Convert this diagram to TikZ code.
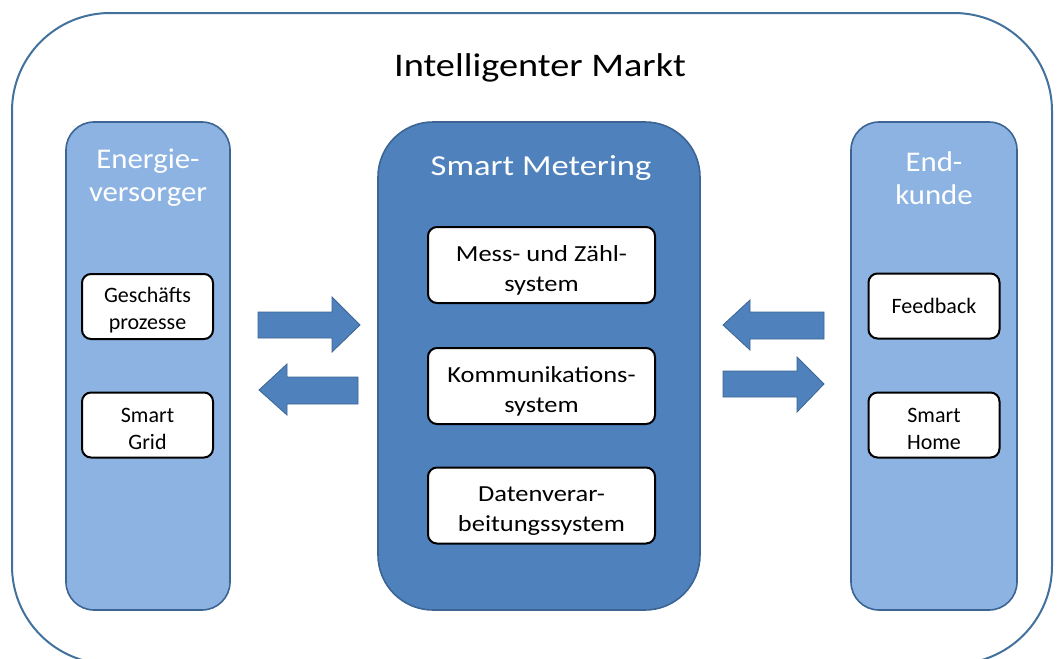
\documentclass[tikz,border=0pt]{standalone}
\usepackage{fontspec}
\setmainfont{Carlito}
\newfontfamily\titlefont[FakeStretch=1.16]{Carlito}
\newfontfamily\smfont[FakeStretch=1.19]{Carlito}
\newfontfamily\headfont[FakeStretch=1.08]{Carlito}
\newfontfamily\midfont[FakeStretch=1.15]{Carlito}
\definecolor{outerblue}{HTML}{41719C}
\definecolor{sidefill}{HTML}{8DB3E2}
\definecolor{midfill}{HTML}{4F81BD}
\definecolor{edgeblue}{HTML}{3C6594}
\begin{document}
\begin{tikzpicture}[x=1pt,y=-1pt,
 panel/.style={draw=edgeblue, line width=1.6pt, inner sep=0pt},
 sidepanel/.style={panel, fill=sidefill, rounded corners=28pt, minimum width=164pt, minimum height=488pt},
 midpanel/.style={panel, fill=midfill, rounded corners=55pt, minimum width=322pt, minimum height=488pt},
 itembox/.style={draw=black, line width=2pt, fill=white, rounded corners=9pt, align=center, inner sep=0pt},
 smallbox/.style={itembox, minimum width=131pt, minimum height=65pt, font=\fontsize{22}{27}\selectfont},
 twoline/.style={text height=49pt},
 widebox/.style={itembox, minimum width=227pt, minimum height=76pt, font=\midfont\fontsize{23}{30}\selectfont, text height=56pt},
 head/.style={text=white, align=center, font=\headfont\fontsize{28.5}{33}\selectfont},
 blockarrow/.style={fill=midfill, draw=edgeblue, line width=0.8pt, line join=miter}
]
\useasboundingbox (0,0) rectangle (1061,659);
\draw[outerblue, line width=2pt, rounded corners=98pt] (12,13) rectangle (1052,664);
\node[font=\titlefont\fontsize{33}{38}\selectfont] (title) at (540,68) {Intelligenter Markt};

\node[sidepanel] (ev) at (148,366) {};
\node[midpanel] (sm) at (539,366) {};
\node[sidepanel, minimum width=166pt] (ek) at (934,366) {};

\node[head] (evt) at (148,178) {Energie-\\versorger};
\node[head] (ekt) at (934,178) {End-\\kunde};
\node[head, font=\smfont\fontsize{29}{34}\selectfont] (smt) at (541,168) {Smart Metering};

\node[smallbox, twoline] (gp) at (147.5,306.5) {Geschäfts\\prozesse};
\node[smallbox, twoline] (sg) at (147.5,425) {Smart\\Grid};
\node[widebox] (mz) at (541.5,265) {Mess- und Zähl-\\system};
\node[widebox] (ks) at (541.5,386) {Kommunikations-\\system};
\node[widebox] (dv) at (541.5,505.5) {Datenverar-\\beitungssystem};
\node[smallbox] (fb) at (934,306) {Feedback};
\node[smallbox, twoline] (sh) at (934,425) {Smart\\Home};

\draw[blockarrow] (258,312) -- (332,312) -- (332,297) -- (360,325) -- (332,352) -- (332,338) -- (258,338) -- cycle;
\draw[blockarrow] (358,377) -- (287,377) -- (287,364) -- (259,390) -- (287,415) -- (287,404) -- (358,404) -- cycle;
\draw[blockarrow] (824,312) -- (750,312) -- (750,300) -- (723,325) -- (750,350) -- (750,339) -- (824,339) -- cycle;
\draw[blockarrow] (723,371) -- (797,371) -- (797,357) -- (824,384) -- (797,412) -- (797,397) -- (723,397) -- cycle;
\end{tikzpicture}
\end{document}
